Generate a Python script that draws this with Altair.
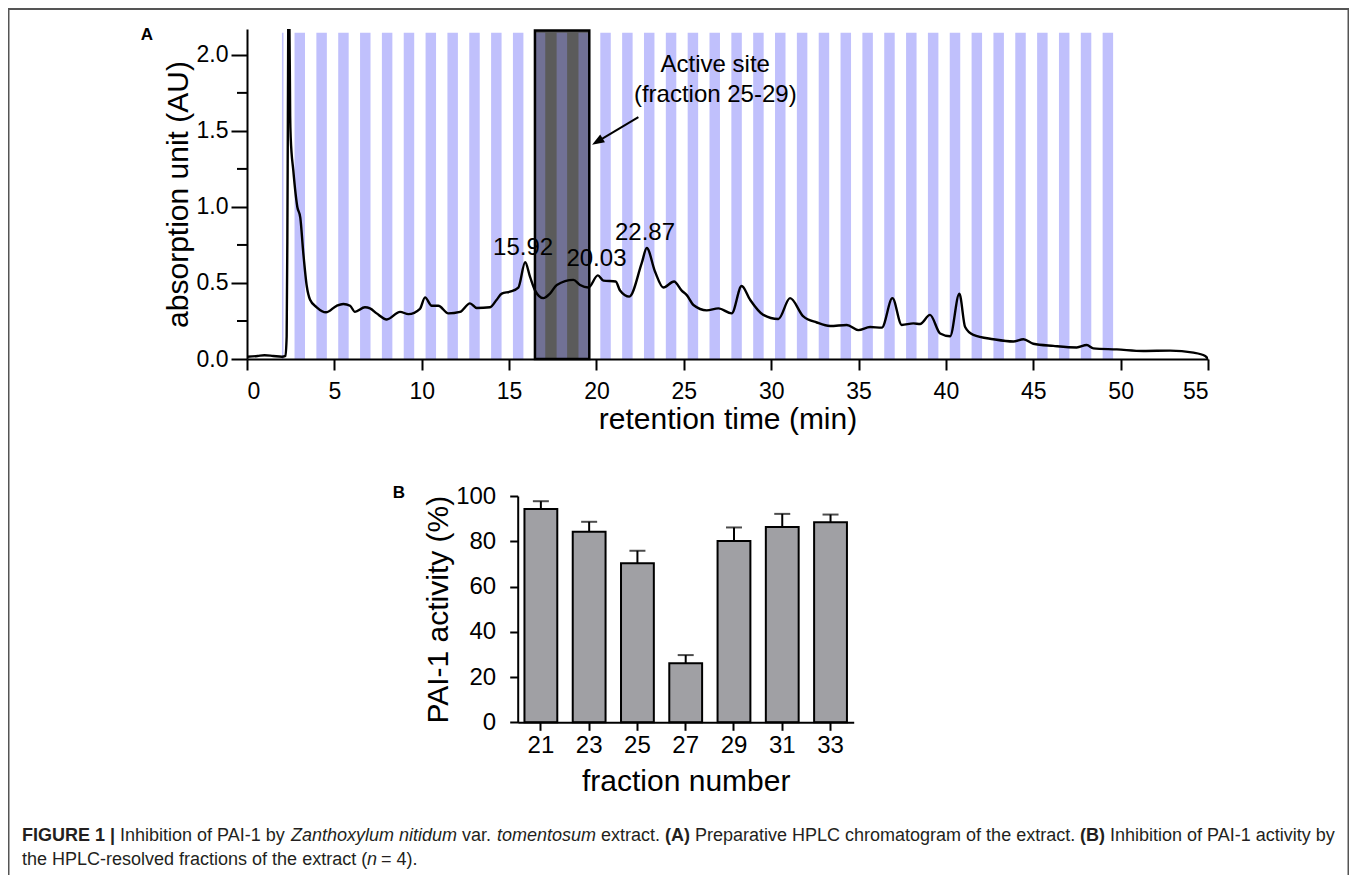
import altair as alt
import pandas as pd

FONT = "Liberation Sans, Arial, Helvetica, sans-serif"
CAPFONT = "Liberation Sans, Arial, Helvetica, sans-serif"

# ---------------- Panel A : preparative HPLC chromatogram ----------------
time_min = [0.0, 0.6, 1.0, 1.5, 2.0, 2.2, 2.27, 2.31, 2.34, 2.37, 2.42, 2.47, 2.5, 2.65, 2.88,
            3.05, 3.22, 3.42, 3.61, 3.99, 4.52, 5.13, 5.51, 5.9, 6.18, 6.75, 7.04, 7.42, 8.0,
            8.76, 9.24, 9.9, 10.19, 10.57, 10.95, 11.52, 12.19, 12.76, 13.15, 13.91, 14.29,
            14.58, 15.05, 15.53, 15.92, 16.2, 16.49, 16.96, 17.34, 17.73, 18.68, 19.06, 19.54,
            20.08, 20.4, 21.1, 21.35, 21.88, 22.59, 22.88, 23.35, 23.83, 24.44, 24.88, 25.17,
            25.55, 26.31, 26.98, 27.74, 28.31, 28.79, 29.55, 30.41, 31.08, 31.84, 32.61, 33.37,
            34.33, 34.99, 35.66, 36.33, 36.94, 37.47, 38.14, 38.52, 39.09, 39.67, 40.24, 40.77,
            41.1, 41.57, 42.72, 43.86, 44.44, 45.0, 46.15, 47.49, 48.06, 48.44, 49.78, 51.3,
            52.83, 54.17, 54.84, 55.0]
absorbance = [0.015, 0.02, 0.025, 0.02, 0.015, 0.02, 0.15, 0.8, 1.6, 2.3, 2.3, 1.6, 1.46, 1.24,
              1.0, 0.93, 0.70, 0.48, 0.39, 0.34, 0.307, 0.35, 0.362, 0.35, 0.31, 0.34, 0.333,
              0.30, 0.26, 0.31, 0.295, 0.33, 0.405, 0.35, 0.35, 0.30, 0.31, 0.366, 0.335, 0.34,
              0.39, 0.43, 0.443, 0.47, 0.636, 0.54, 0.45, 0.40, 0.43, 0.487, 0.52, 0.487, 0.47,
              0.55, 0.515, 0.51, 0.45, 0.41, 0.63, 0.73, 0.575, 0.47, 0.51, 0.45, 0.42, 0.355,
              0.32, 0.333, 0.30, 0.48, 0.39, 0.29, 0.263, 0.40, 0.28, 0.24, 0.217, 0.224, 0.19,
              0.21, 0.206, 0.40, 0.224, 0.234, 0.23, 0.29, 0.168, 0.15, 0.43, 0.21, 0.158, 0.13,
              0.115, 0.13, 0.10, 0.086, 0.076, 0.092, 0.07, 0.063, 0.053, 0.055, 0.042, 0.02, 0.0]

# collected fractions (odd fractions shaded)
stripe_fraction = list(range(1, 78, 2))
stripe_start = [2.00, 2.72, 3.97, 5.22, 6.47, 7.72, 8.97, 10.22, 11.47, 12.72, 13.97, 15.22,
                16.47, 17.72, 18.97, 20.22, 21.47, 22.72, 23.97, 25.22, 26.47, 27.72, 28.97,
                30.22, 31.47, 32.72, 33.97, 35.22, 36.47, 37.72, 38.97, 40.22, 41.47, 42.72,
                43.97, 45.22, 46.47, 47.72, 48.97]
stripe_end = [2.09, 3.32, 4.57, 5.82, 7.07, 8.32, 9.57, 10.82, 12.07, 13.32, 14.57, 15.82,
              17.07, 18.32, 19.57, 20.82, 22.07, 23.32, 24.57, 25.82, 27.07, 28.32, 29.57,
              30.82, 32.07, 33.32, 34.57, 35.82, 37.07, 38.32, 39.57, 40.82, 42.07, 43.32,
              44.57, 45.82, 47.07, 48.32, 49.57]
stripe_top = 2.146

active_start = [16.48]
active_end = [19.59]
active_top = [2.16]

peak_text = ["15.92", "20.03", "22.87"]
peak_label_t = [15.8, 20.0, 22.78]
peak_label_v = [0.73, 0.656, 0.83]

arrow_t = [22.4, 20.05]
arrow_v = [1.59, 1.43]

y_major = [0, 0.5, 1.0, 1.5, 2.0]
y_minor = [0.25, 0.75, 1.25, 1.75]
x_ticks = [0, 5, 10, 15, 20, 25, 30, 35, 40, 45, 50, 55]

# ---------------- Panel B : PAI-1 activity of fractions ----------------
fractions = ["21", "23", "25", "27", "29", "31", "33"]
activity = [94.3, 84.2, 70.3, 26.1, 80.1, 86.3, 88.4]
activity_err = [3.4, 4.4, 5.5, 3.6, 6.0, 5.8, 3.4]

# ---------------- caption ----------------
cap_regular = ["Inhibition of PAI-1 by", "var.", "extract.",
               "Preparative HPLC chromatogram of the extract.",
               "Inhibition of PAI-1 activity by",
               "the HPLC-resolved fractions of the extract (", "= 4)."]
cap_regular_x = [120, 462, 601, 695, 1110, 22, 381]
cap_regular_y = [836, 836, 836, 836, 836, 860, 860]
cap_bold = ["FIGURE 1", "|", "(A)", "(B)"]
cap_bold_x = [22, 110, 665, 1080]
cap_bold_y = [836, 836, 836, 836]
cap_italic = ["Zanthoxylum nitidum", "tomentosum", "n"]
cap_italic_x = [291, 497, 367]
cap_italic_y = [836, 836, 860]

# plot-area origin on the page (A panel)
OX, OY = 247, 29
W, H = 961, 330

xA = alt.Scale(domain=[0, 55], nice=False, zero=False)
yA = alt.Scale(domain=[0, 2.17], nice=False, zero=False)
axA_x = alt.Axis(values=x_ticks, tickSize=11, labelFontSize=23, labelPadding=10, zindex=1,
                 title="retention time (min)", titleFontSize=30, titlePadding=1)
axA_y = alt.Axis(values=y_major, format=".1f", tickSize=16, labelFontSize=23, labelPadding=3,
                 zindex=1, title="absorption unit (AU)", titleFontSize=30, titlePadding=3)

chrom = pd.DataFrame({"t": time_min, "v": absorbance})
stripes = pd.DataFrame({"frac": stripe_fraction, "t": stripe_start, "e": stripe_end,
                        "v": [stripe_top] * len(stripe_start)})
box = pd.DataFrame({"t": active_start, "e": active_end, "v": active_top, "bot": [0]})
peaks = pd.DataFrame({"label": peak_text, "t": peak_label_t, "v": peak_label_v})
arrow = pd.DataFrame({"t": arrow_t, "v": arrow_v})
minor = pd.DataFrame({"v": y_minor})


def XA(field="t"):
    return alt.X(f"{field}:Q", scale=xA, axis=axA_x)


def YA(field="v"):
    return alt.Y(f"{field}:Q", scale=yA, axis=axA_y)


box_fill = alt.Chart(box).mark_rect(color="#5b5b5b").encode(
    x=XA(), x2="e:Q", y=YA(), y2="bot:Q")

stripe_layer = alt.Chart(stripes).mark_rect().encode(
    x=XA(), x2="e:Q", y=YA(), y2=alt.datum(0),
    color=alt.condition((alt.datum.frac >= 25) & (alt.datum.frac <= 29),
                        alt.value("#717195"), alt.value("#c0c0fc")))

box_edge = alt.Chart(box).mark_rect(fill=None, stroke="black", strokeWidth=2.5).encode(
    x=XA(), x2="e:Q", y=YA(), y2="bot:Q")

line = alt.Chart(chrom).mark_line(color="black", strokeWidth=2.4, clip=True,
                                  interpolate="monotone").encode(x=XA(), y=YA())

minor_ticks = alt.Chart(minor).mark_rule(color="black", strokeWidth=2).encode(
    y=YA(), x=alt.value(-10), x2=alt.value(0))

peak_labels = alt.Chart(peaks).mark_text(font=FONT, fontSize=24, color="black",
                                         baseline="middle", align="center").encode(
    x=XA(), y=YA(), text="label:N")

active_label = alt.Chart(pd.DataFrame({"t": [26.8], "v": [1.934]})).mark_text(
    font=FONT, fontSize=24, color="black", align="center", baseline="middle",
    lineHeight=30).encode(
    x=XA(), y=YA(), text=alt.value(["Active site", "(fraction 25-29)"]))

arrow_line = alt.Chart(arrow).mark_line(color="black", strokeWidth=2).encode(x=XA(), y=YA())

arrow_head = alt.Chart(arrow.tail(1)).mark_point(
    shape="M 1 0 L -1 -0.75 L -1 0.75 Z", filled=True, color="black", size=150,
    angle=149, opacity=1).encode(x=XA(), y=YA())

panelA = alt.layer(box_fill, stripe_layer, box_edge, minor_ticks, line, peak_labels,
                   active_label, arrow_line, arrow_head)

# ---- panel B, placed below A with its own scales
B_x0, B_x1 = 517.7 - OX, 853.7 - OX
B_y0, B_y100 = 722.3 - OY, 496 - OY

bars_df = pd.DataFrame({"fraction": fractions, "activity": activity,
                        "top": [a + e for a, e in zip(activity, activity_err)]})
xB = alt.Scale(domain=fractions, range=[B_x0, B_x1], paddingInner=0.32, paddingOuter=0.14)
yB = alt.Scale(domain=[0, 100], range=[B_y0, B_y100], nice=False, zero=True)
axB_x = alt.Axis(orient="bottom", offset=B_y0 - H, tickSize=8, labelAngle=0, zindex=1,
                 labelFontSize=24, labelPadding=3, title="fraction number",
                 titleFontSize=30, titlePadding=9)
axB_y = alt.Axis(orient="left", offset=-B_x0, values=[0, 20, 40, 60, 80, 100], zindex=1,
                 tickSize=8, labelFontSize=24, labelPadding=14,
                 title="PAI-1 activity (%)", titleFontSize=30, titlePadding=2)


def XB():
    return alt.X("fraction:O", scale=xB, sort=fractions, axis=axB_x)


def YB(field):
    return alt.Y(f"{field}:Q", scale=yB, axis=axB_y)


bars = alt.Chart(bars_df).mark_bar(color="#a0a0a4", stroke="black", strokeWidth=2).encode(
    x=XB(), y=YB("activity"))

err_rule = alt.Chart(bars_df).mark_rule(color="black", strokeWidth=2).encode(
    x=XB(), y=YB("activity"), y2="top:Q")

err_cap = alt.Chart(bars_df).mark_tick(color="black", thickness=2, size=16).encode(
    x=XB(), y=YB("top"))

panelB = alt.layer(bars, err_rule, err_cap)

# ---- page annotations (panel letters, caption, frame) in pixel space
one = pd.DataFrame({"k": [0]})
frame = alt.Chart(one).mark_rect(fill=None, stroke="#555555", strokeWidth=2).encode(
    x=alt.value(8.5 - OX), x2=alt.value(1348.5 - OX),
    y=alt.value(9 - OY), y2=alt.value(950 - OY))

letters = pd.DataFrame({"txt": ["A", "B"], "px": [147 - OX, 399 - OX], "py": [35 - OY, 493 - OY]})
letter_marks = alt.Chart(letters).mark_text(font=FONT, fontSize=17, fontWeight="bold",
                                            align="center", baseline="middle",
                                            color="black").encode(
    x=alt.X("px:Q", scale=None, axis=None), y=alt.Y("py:Q", scale=None, axis=None),
    text="txt:N")


def cap_layer(texts, xs, ys, **kw):
    df = pd.DataFrame({"txt": texts, "px": [x - OX for x in xs], "py": [y - OY for y in ys]})
    return alt.Chart(df).mark_text(font=CAPFONT, fontSize=18, align="left",
                                   baseline="middle", color="#231f20", **kw).encode(
        x=alt.X("px:Q", scale=None, axis=None), y=alt.Y("py:Q", scale=None, axis=None),
        text="txt:N")


caption = alt.layer(
    cap_layer(cap_regular, cap_regular_x, cap_regular_y),
    cap_layer(cap_bold, cap_bold_x, cap_bold_y, fontWeight="bold"),
    cap_layer(cap_italic, cap_italic_x, cap_italic_y, fontStyle="italic"),
)

annot = alt.layer(frame, letter_marks, caption)

chart = alt.layer(panelA, panelB, annot).resolve_scale(
    x="independent", y="independent").resolve_axis(x="independent", y="independent").properties(
    width=W, height=H,
    padding={"left": OX - 8, "top": OY - 8, "right": 1349 - (OX + W), "bottom": 867 - (OY - 8) - H},
    autosize=alt.AutoSizeParams(type="none"),
    background="white",
).configure_view(stroke=None).configure_axis(
    grid=False, domainColor="black", tickColor="black", labelColor="black",
    titleColor="black", domainWidth=2, tickWidth=2, labelFont=FONT, titleFont=FONT,
    titleFontWeight="normal")

chart.save("out.html", embed_options={"renderer": "svg", "actions": False})
